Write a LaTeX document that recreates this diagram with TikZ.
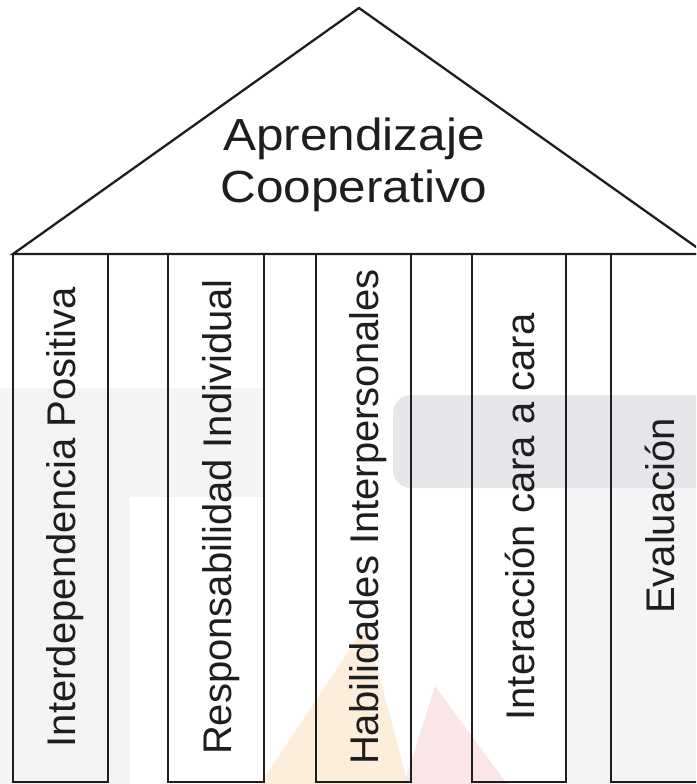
\documentclass[tikz,border=0pt]{standalone}
\usepackage{fontspec}
\setmainfont{Liberation Sans}

\definecolor{inkline}{HTML}{1E1E1E}
\definecolor{wmgray}{HTML}{E5E5EA}
\definecolor{wmlight}{HTML}{F4F4F6}
\definecolor{wmorange}{HTML}{FDEEDC}
\definecolor{wmpink}{HTML}{FAE6E6}

\begin{document}
\begin{tikzpicture}[x=1pt, y=-1pt,
    frame/.style={draw=inkline, line width=2.3pt},
    pillartext/.style={rotate=90, anchor=base, inner sep=0pt, text=inkline,
      font=\fontsize{40}{40}\selectfont}]
    \useasboundingbox (0,0) rectangle (696,784);
    \clip (0,0) rectangle (696,784);

    % faint seal in the background
    \fill[wmlight] (0,388) rectangle (265,497);
    \fill[wmlight] (0,497) rectangle (130,784);
    \fill[wmlight] (566,488) rectangle (696,784);
    \fill[wmgray, rounded corners=18pt] (393,395) rectangle (720,488);
    \fill[wmorange] (366,625) -- (408,784) -- (260,784) -- cycle;
    \fill[wmpink] (435,686) -- (507,784) -- (404,784) -- cycle;

    % roof
    \draw[frame] (13,254) -- (359,8) -- (706,254) -- cycle;

    % columns
    \foreach \l/\r in {13/108, 168/264, 316/411, 472/566, 611/707}
      \draw[frame] (\l,254) rectangle (\r,782);

    % base anchor sits on the last line
    \node[align=center, anchor=base, xscale=1.1, text=inkline,
      font=\fontsize{45}{52}\selectfont] (title) at (354,202)
      {Aprendizaje\\Cooperativo};

    \node[pillartext] (interdep) at (75,517) {Interdependencia Positiva};
    \node[pillartext] (respons) at (231,517) {Responsabilidad Individual};
    \node[pillartext] (habil) at (378,517) {Habilidades Interpersonales};
    \node[pillartext] (interac) at (534,517) {Interacción cara a cara};
    \node[pillartext] (evalua) at (674,516) {Evaluación};
  \end{tikzpicture}
\end{document}
